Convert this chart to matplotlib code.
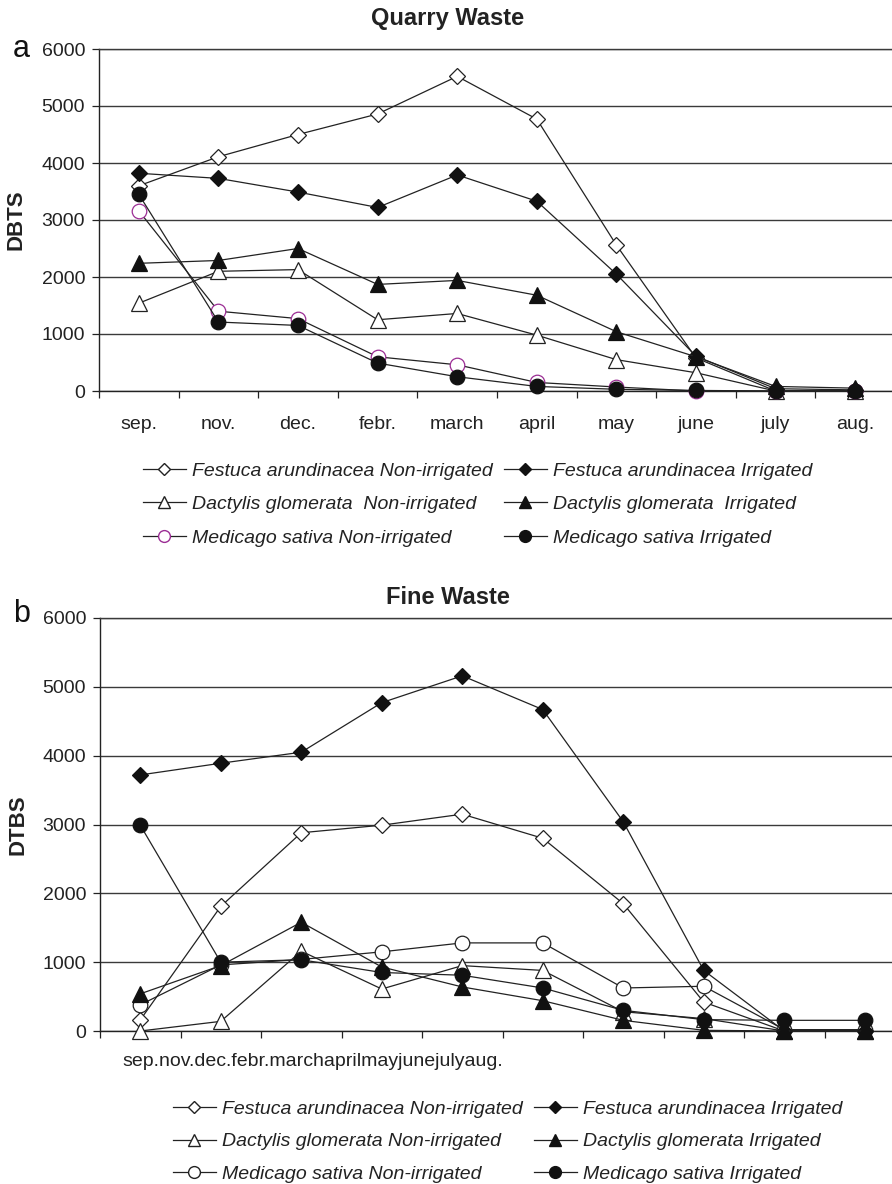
import matplotlib
matplotlib.use("Agg")
import matplotlib.pyplot as plt
from matplotlib.lines import Line2D
import numpy as np

plt.rcParams['font.family'] = ['Liberation Sans', 'DejaVu Sans']

months = ['sep.', 'nov.', 'dec.', 'febr.', 'march', 'april', 'may', 'june', 'july', 'aug.']

# Quarry waste (panel a)
q_festuca_ni = [3600, 4110, 4500, 4860, 5520, 4770, 2560, 580, 0, 0]
q_festuca_i = [3820, 3730, 3490, 3220, 3790, 3330, 2050, 610, 40, 20]
q_dactylis_ni = [1540, 2100, 2130, 1250, 1360, 980, 550, 320, 0, 0]
q_dactylis_i = [2240, 2290, 2500, 1870, 1940, 1680, 1040, 600, 80, 50]
q_medicago_ni = [3160, 1400, 1270, 600, 460, 150, 70, 0, 0, 0]
q_medicago_i = [3450, 1210, 1150, 490, 250, 80, 30, 10, 0, 0]

# Fine waste (panel b)
f_festuca_ni = [160, 1810, 2880, 2990, 3150, 2800, 1850, 420, 0, 0]
f_festuca_i = [3720, 3890, 4050, 4770, 5160, 4670, 3040, 880, 0, 0]
f_dactylis_ni = [0, 140, 1160, 610, 950, 880, 280, 180, 0, 0]
f_dactylis_i = [540, 950, 1580, 930, 640, 440, 155, 10, 0, 0]
f_medicago_ni = [380, 960, 1040, 1150, 1280, 1280, 625, 650, 20, 20]
f_medicago_i = [2990, 1000, 1035, 850, 810, 625, 300, 165, 155, 155]

labels_a = ['Festuca arundinacea Non-irrigated', 'Dactylis glomerata  Non-irrigated',
            'Medicago sativa Non-irrigated', 'Festuca arundinacea Irrigated',
            'Dactylis glomerata  Irrigated', 'Medicago sativa Irrigated']
labels_b = ['Festuca arundinacea Non-irrigated', 'Dactylis glomerata Non-irrigated',
            'Medicago sativa Non-irrigated', 'Festuca arundinacea Irrigated',
            'Dactylis glomerata Irrigated', 'Medicago sativa Irrigated']

W, H = 892, 1184
fig = plt.figure(figsize=(W / 100, H / 100), dpi=100)

def fx(px):
    return px / W

def fy(py):
    return 1 - py / H

GRID = '#3a3a3a'
PURPLE = '#9b2d94'

def style_axes(ax, ylab):
    n = len(months)
    ax.set_xlim(-0.5, n - 0.5)
    ax.set_ylim(0, 6000)
    ax.set_yticks(np.arange(0, 6001, 1000))
    ax.tick_params(axis='y', labelsize=14, length=5, width=0.9, pad=5, colors='#222222')
    ax.set_xticks(np.arange(-0.5, n, 1.0), minor=True)
    ax.tick_params(axis='x', which='minor', length=5, width=0.9, color='#222222')
    ax.yaxis.grid(True, color=GRID, lw=1.0)
    ax.set_axisbelow(True)
    ax.spines['right'].set_visible(False)
    ax.spines['top'].set_color(GRID)
    ax.spines['top'].set_linewidth(1.0)
    ax.spines['left'].set_color('#222222')
    ax.spines['bottom'].set_color('#222222')
    ax.spines['left'].set_linewidth(1.0)
    ax.spines['bottom'].set_linewidth(1.0)
    ax.set_ylabel(ylab, fontsize=16, fontweight='bold', color='#222222')

def draw(ax, series, mni_edge):
    x = np.arange(len(months))
    fni, fi, dni, di, mni, mi = series
    kw = dict(color='#222222', lw=0.9, clip_on=False, zorder=3)
    ax.plot(x, fni, marker='D', ms=8.5, mfc='white', mec='#222222', mew=0.9, **kw)
    ax.plot(x, dni, marker='^', ms=11, mfc='white', mec='#222222', mew=0.9, **kw)
    ax.plot(x, mni, marker='o', ms=10.5, mfc='white', mec=mni_edge, mew=0.9, **kw)
    ax.plot(x, fi, marker='D', ms=8.5, mfc='#111111', mec='#111111', mew=0.9, **kw)
    ax.plot(x, di, marker='^', ms=11, mfc='#111111', mec='#111111', mew=0.9, **kw)
    ax.plot(x, mi, marker='o', ms=10.5, mfc='#111111', mec='#111111', mew=0.9, **kw)

def legend_handles(mni_edge):
    kw = dict(color='#222222', lw=0.9)
    return [
        Line2D([], [], marker='D', ms=6.5, mfc='white', mec='#222222', **kw),
        Line2D([], [], marker='^', ms=9, mfc='white', mec='#222222', **kw),
        Line2D([], [], marker='o', ms=8.5, mfc='white', mec=mni_edge, **kw),
        Line2D([], [], marker='D', ms=6.5, mfc='#111111', mec='#111111', **kw),
        Line2D([], [], marker='^', ms=9, mfc='#111111', mec='#111111', **kw),
        Line2D([], [], marker='o', ms=8.5, mfc='#111111', mec='#111111', **kw),
    ]

# ---------- Panel a ----------
ax1 = fig.add_axes([fx(99), fy(391), fx(796), 342 / H])
style_axes(ax1, 'DBTS')
draw(ax1, [q_festuca_ni, q_festuca_i, q_dactylis_ni, q_dactylis_i, q_medicago_ni, q_medicago_i], PURPLE)
ax1.set_xticks(np.arange(len(months)))
ax1.set_xticklabels(months)
ax1.tick_params(axis='x', which='major', length=0, labelsize=14, pad=18, colors='#222222')
ax1.yaxis.set_label_coords(-72 / 796, 0.5)

fig.text(fx(448), fy(19), 'Quarry Waste', fontsize=17, fontweight='bold', ha='center', va='center', color='#222222')
fig.text(fx(21), fy(49), 'a', fontsize=22, ha='center', va='center', color='#111111')

fig.legend(legend_handles(PURPLE), labels_a, ncol=2, frameon=False,
           loc='upper left', bbox_to_anchor=(fx(143), fy(462)),
           prop={'size': 14, 'style': 'italic'}, handlelength=2.2,
           handletextpad=0.3, columnspacing=0.6, labelspacing=0.82,
           borderpad=0, borderaxespad=0, labelcolor='#222222')

# ---------- Panel b ----------
ax2 = fig.add_axes([fx(100), fy(1031), fx(805), 413 / H])
style_axes(ax2, 'DTBS')
draw(ax2, [f_festuca_ni, f_festuca_i, f_dactylis_ni, f_dactylis_i, f_medicago_ni, f_medicago_i], '#222222')
ax2.set_xticks([])
ax2.text(22 / 805, -31 / 413, ''.join(months), transform=ax2.transAxes,
         fontsize=14, ha='left', va='center', color='#222222')
ax2.yaxis.set_label_coords(-71 / 805, 0.5)

fig.text(fx(448), fy(598), 'Fine Waste', fontsize=17, fontweight='bold', ha='center', va='center', color='#222222')
fig.text(fx(22), fy(614), 'b', fontsize=22, ha='center', va='center', color='#111111')

fig.legend(legend_handles('#222222'), labels_b, ncol=2, frameon=False,
           loc='upper left', bbox_to_anchor=(fx(173), fy(1100)),
           prop={'size': 14, 'style': 'italic'}, handlelength=2.2,
           handletextpad=0.3, columnspacing=0.6, labelspacing=0.78,
           borderpad=0, borderaxespad=0, labelcolor='#222222')

fig.savefig('out.png', dpi=100)
